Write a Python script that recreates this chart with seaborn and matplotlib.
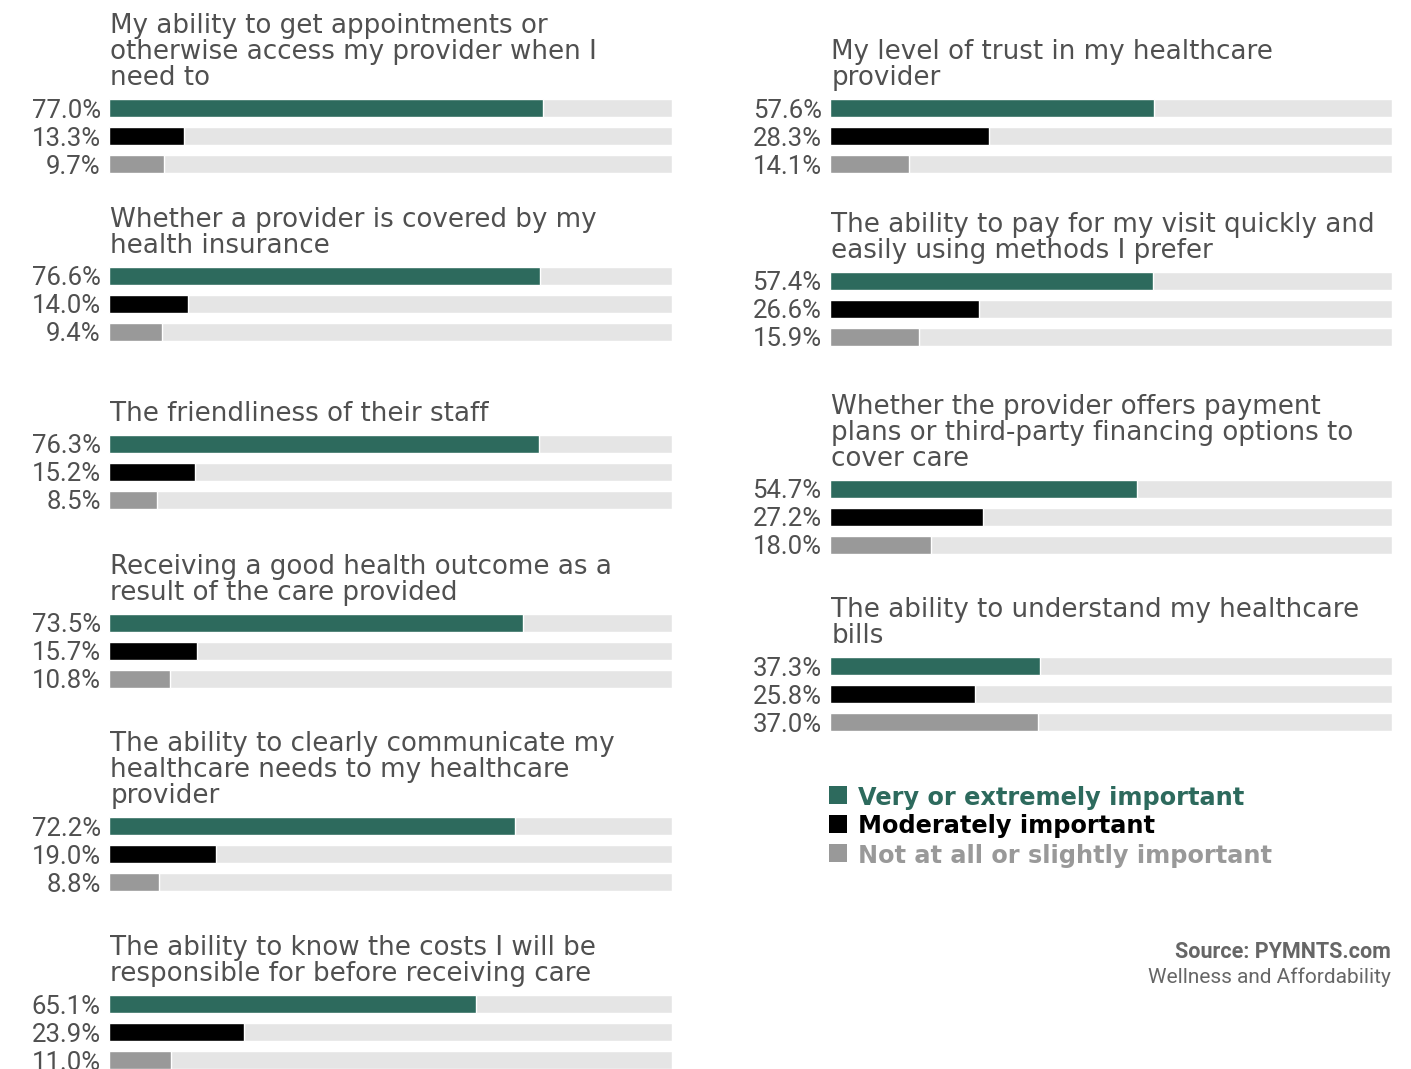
import matplotlib
matplotlib.use("Agg")
import matplotlib.pyplot as plt
import seaborn as sns
from matplotlib.patches import Rectangle

sns.set_theme(style="white")
plt.rcParams['font.family'] = ['DejaVu Sans']

# ---- data ----
titles = [
    "My ability to get appointments or\notherwise access my provider when I\nneed to",
    "Whether a provider is covered by my\nhealth insurance",
    "The friendliness of their staff",
    "Receiving a good health outcome as a\nresult of the care provided",
    "The ability to clearly communicate my\nhealthcare needs to my healthcare\nprovider",
    "The ability to know the costs I will be\nresponsible for before receiving care",
    "My level of trust in my healthcare\nprovider",
    "The ability to pay for my visit quickly and\neasily using methods I prefer",
    "Whether the provider offers payment\nplans or third-party financing options to\ncover care",
    "The ability to understand my healthcare\nbills",
]
very = [77.0, 76.6, 76.3, 73.5, 72.2, 65.1, 57.6, 57.4, 54.7, 37.3]
moderate = [13.3, 14.0, 15.2, 15.7, 19.0, 23.9, 28.3, 26.6, 27.2, 25.8]
notatall = [9.7, 9.4, 8.5, 10.8, 8.8, 11.0, 14.1, 15.9, 18.0, 37.0]
series_names = ["Very or extremely important", "Moderately important",
                "Not at all or slightly important"]
colors = ["#2d6a5d", "#000000", "#999999"]
bg_color = "#e5e5e5"
text_color = "#505050"

# ---- layout (pixels) ----
W, H = 1411, 1069
fig = plt.figure(figsize=(W / 100, H / 100), dpi=100)
first_centers = [108, 276, 444, 623, 826, 1004, 108, 281, 489, 666]
x_ranges = [(109, 672)] * 6 + [(830, 1392)] * 4
spacing = 28

for i in range(10):
    x0, x1 = x_ranges[i]
    top = first_centers[i] - spacing / 2
    bottom = top + 3 * spacing
    ax = fig.add_axes([x0 / W, 1 - bottom / H, (x1 - x0) / W, (bottom - top) / H])
    cats = ["a", "b", "c"]
    vals = [very[i], moderate[i], notatall[i]]
    sns.barplot(x=[100, 100, 100], y=cats, color=bg_color, width=0.61,
                saturation=1, ax=ax, orient="h")
    sns.barplot(x=vals, y=cats, hue=cats, palette=colors, width=0.61,
                saturation=1, legend=False, ax=ax, orient="h")
    ax.set_xlim(0, 100)
    ax.set_ylim(2.5, -0.5)
    ax.set_yticks([0, 1, 2])
    ax.set_yticklabels([f"{v:.1f}%" for v in vals], fontsize=18.5,
                       color=text_color, family=['Roboto', 'DejaVu Sans'])
    ax.tick_params(axis='y', length=0, pad=6)
    ax.set_xticks([])
    ax.set_xlabel("")
    ax.set_ylabel("")
    for s in ax.spines.values():
        s.set_visible(False)
    ax.annotate(titles[i], xy=(0, 1), xycoords='axes fraction',
                xytext=(1, 2.5), textcoords='offset points',
                ha='left', va='bottom', fontsize=18.8, color=text_color,
                linespacing=1.0)

# legend (manual, square markers + coloured bold labels)
leg_centers = [795, 824, 853]
for name, c, yc in zip(series_names, colors, leg_centers):
    fig.add_artist(Rectangle((829 / W, 1 - (yc + 9) / H), 18 / W, 18 / H,
                             transform=fig.transFigure, facecolor=c,
                             edgecolor='none'))
    fig.text(858 / W, 1 - yc / H, name, ha='left', va='center_baseline',
             fontsize=17.3, fontweight='bold', color=c,
             family=['DejaVu Sans'])

# source
fig.text(1391 / W, 1 - 952 / H, "Source: PYMNTS.com", ha='right', va='center',
         fontsize=15.5, fontweight='bold', color="#666666",
         family=['Roboto', 'DejaVu Sans'])
fig.text(1391 / W, 1 - 977 / H, "Wellness and Affordability", ha='right',
         va='center', fontsize=15, color="#666666",
         family=['Roboto', 'DejaVu Sans'])

fig.savefig("out.png", dpi=100, facecolor='white')
